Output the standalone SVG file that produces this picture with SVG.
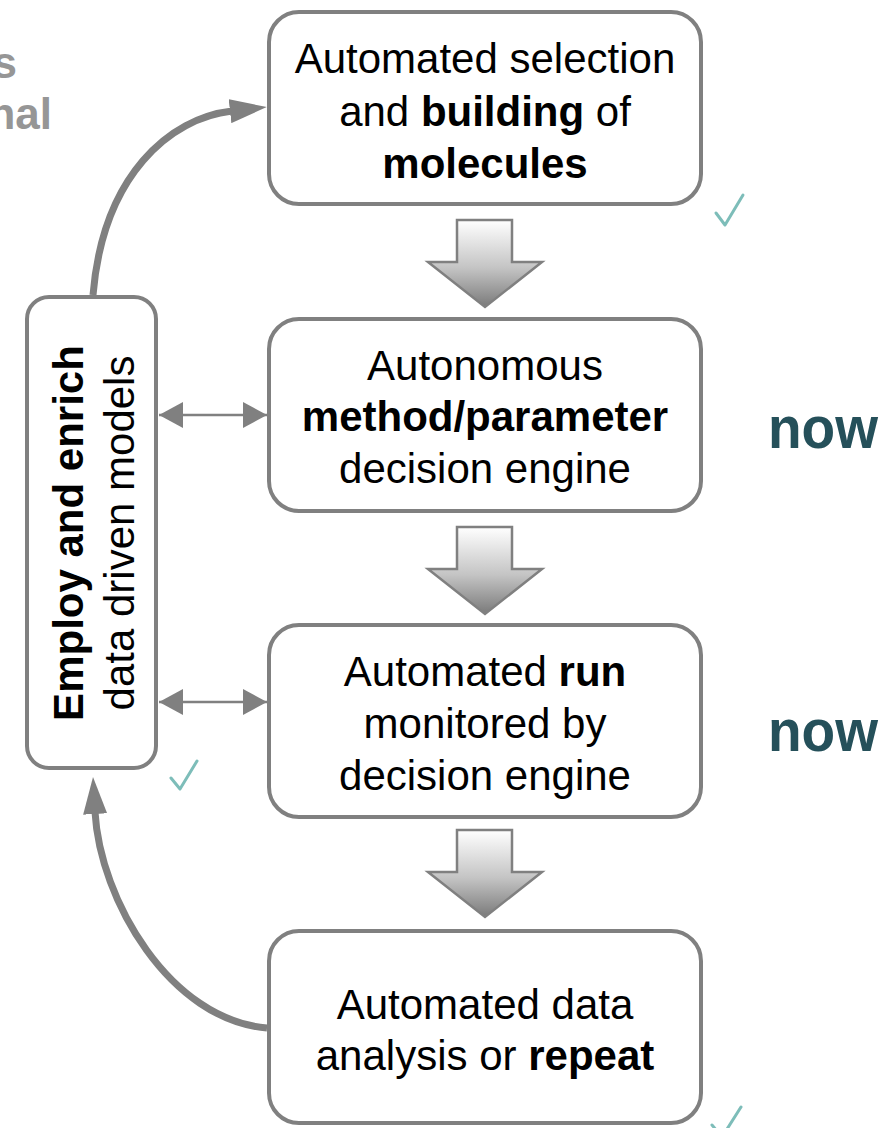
<svg xmlns="http://www.w3.org/2000/svg" width="884" height="1128" viewBox="0 0 884 1128">
  <defs>
    <style>
      .box { fill: #ffffff; stroke: #808080; stroke-width: 4; }
      .t { font-family: "Liberation Sans", Arial, sans-serif; font-size: 42px; fill: #000000; text-anchor: middle; }
      .b { font-weight: bold; }
      .now { font-family: "Liberation Sans", Arial, sans-serif; font-size: 60px; font-weight: bold; fill: #25505a; }
      .side { font-family: "Liberation Sans", Arial, sans-serif; font-size: 44px; font-weight: bold; fill: #969696; text-anchor: end; }
      .curve { fill: none; stroke: #808080; stroke-width: 7; }
      .dbl { stroke: #808080; stroke-width: 2.5; }
      .blk { fill: url(#gradDown); stroke: #808080; stroke-width: 2.5; stroke-linejoin: miter; }
      .chk { fill: none; stroke: #7dbdb9; stroke-width: 3; stroke-linecap: round; stroke-linejoin: round; }
    </style>
    <linearGradient id="gradDown" x1="0" y1="0" x2="0" y2="1">
      <stop offset="0" stop-color="#ffffff"/>
      <stop offset="0.55" stop-color="#c4c4c4"/>
      <stop offset="1" stop-color="#7a7a7a"/>
    </linearGradient>
    <marker id="bigHead" markerUnits="userSpaceOnUse" markerWidth="37" markerHeight="24" viewBox="0 0 37 24" refX="2" refY="12" orient="auto">
      <path d="M0,0 L37,12 L0,24 z" fill="#808080"/>
    </marker>
    <marker id="smallHead" markerUnits="userSpaceOnUse" markerWidth="24" markerHeight="26" viewBox="0 0 24 26" refX="24" refY="13" orient="auto-start-reverse">
      <path d="M0,0 L24,13 L0,26 z" fill="#808080"/>
    </marker>
  </defs>

  <!-- side labels, cut by the left edge as in the reference -->
  <text class="side" x="17" y="78">s</text>
  <text class="side" x="52" y="129">nal</text>

  <!-- connectors -->
  <g id="connectors">
    <path class="curve" d="M93,295 C103,175 170,118 232,111" marker-end="url(#bigHead)"/>
    <path class="curve" d="M267,1028 C170,1020 100,900 95,812" marker-end="url(#bigHead)"/>
    <line class="dbl" x1="159" y1="415" x2="267" y2="415" marker-start="url(#smallHead)" marker-end="url(#smallHead)"/>
    <line class="dbl" x1="159" y1="702" x2="267" y2="702" marker-start="url(#smallHead)" marker-end="url(#smallHead)"/>
    <path class="blk" d="M457,220 L512,220 L512,262 L542,262 L485,307 L428,262 L457,262 z"/>
    <path class="blk" d="M457,527 L512,527 L512,569 L542,569 L485,614 L428,569 L457,569 z"/>
    <path class="blk" d="M457,830 L512,830 L512,872 L542,872 L485,917 L428,872 L457,872 z"/>
  </g>

  <g id="node-selection">
    <rect class="box" x="269" y="12" width="432" height="192" rx="30"/>
    <text class="t" x="485" y="73">Automated selection</text>
    <text class="t" x="485" y="126">and <tspan class="b">building</tspan> of</text>
    <text class="t" x="485" y="178"><tspan class="b">molecules</tspan></text>
  </g>

  <g id="node-decision">
    <rect class="box" x="269" y="319" width="432" height="192" rx="30"/>
    <text class="t" x="485" y="380">Autonomous</text>
    <text class="t b" x="485" y="431">method/parameter</text>
    <text class="t" x="485" y="483">decision engine</text>
  </g>

  <g id="node-run">
    <rect class="box" x="269" y="625" width="432" height="192" rx="30"/>
    <text class="t" x="485" y="686">Automated <tspan class="b">run</tspan></text>
    <text class="t" x="485" y="738">monitored by</text>
    <text class="t" x="485" y="790">decision engine</text>
  </g>

  <g id="node-analysis">
    <rect class="box" x="269" y="931" width="432" height="192" rx="30"/>
    <text class="t" x="485" y="1019">Automated data</text>
    <text class="t" x="485" y="1070">analysis or <tspan class="b">repeat</tspan></text>
  </g>

  <g id="node-models">
    <rect class="box" x="27" y="297" width="129" height="471" rx="22"/>
    <text class="t b" transform="translate(83,533) rotate(-90)" x="0" y="0">Employ and enrich</text>
    <text class="t" transform="translate(134,533) rotate(-90)" x="0" y="0">data driven models</text>
  </g>

  <g id="labels-now">
    <text class="now" x="768" y="448" textLength="110" lengthAdjust="spacingAndGlyphs">now</text>
    <text class="now" x="768" y="751" textLength="110" lengthAdjust="spacingAndGlyphs">now</text>
  </g>

  <g id="checks">
    <path class="chk" d="M716,213 L725,225 L743,195"/>
    <path class="chk" d="M171,778 L180,789 L197,761"/>
    <path class="chk" d="M712,1125 L722,1137 L741,1107"/>
  </g>
</svg>
